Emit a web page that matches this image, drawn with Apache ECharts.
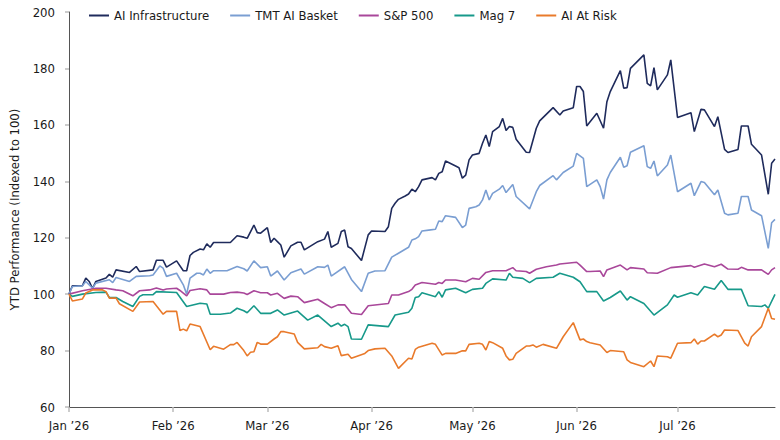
<!DOCTYPE html>
<html>
<head>
<meta charset="utf-8">
<script src="https://cdn.jsdelivr.net/npm/echarts@6/dist/echarts.min.js"></script>
<style>
  html, body { margin: 0; padding: 0; background: #fff; }
  #chart { width: 780px; height: 440px; }
</style>
</head>
<body>
<div id="chart"></div>
<script>
// days counted from 1 Jan 2026, values indexed to 100
var seriesNames = ['AI Infrastructure', 'TMT AI Basket', 'S&P 500', 'Mag 7', 'AI At Risk'];
var monthNames = ['Jan', 'Feb', 'Mar', 'Apr', 'May', 'Jun', 'Jul', 'Aug', 'Sep', 'Oct', 'Nov', 'Dec'];

var infra = [[0,100],[1,103],[4,103],[5,105.7],[6,104.5],[7,102],[8,104.5],[11,105.7],[12,107],[13,106],[14,108.6],[18,107.7],[20,109.8],[21,108],[25,108.6],[26,112],[28,112],[29,109.6],[32,111.8],[34,108.3],[35,108.3],[36,113.7],[37,114.8],[39,116],[40,115.7],[41,117.8],[42,116.6],[43,118.3],[48,118.3],[50,120.7],[52,120.2],[53,119.8],[55,124.5],[56,121.8],[57,121.6],[59,123.6],[60,118.3],[61,119.8],[62,118.6],[63,117.4],[64,113.1],[66,117.1],[68,118.4],[69,118.4],[70,115.7],[74,118.6],[76,119.5],[77,122.2],[78,116.6],[80,118],[81,122.2],[82,122.7],[83,116.8],[84,116.2],[87,111.9],[89,121],[90,122.4],[94,122.2],[95,123.9],[96,130.4],[97,132.2],[98,133.6],[100,134.8],[101,135.5],[102,137.2],[103,136.3],[104,138.1],[105,140.5],[108,141.3],[109,140.5],[110,142.8],[111,143.4],[112,147.2],[115,145.4],[116,144.8],[117,141.1],[118,142.2],[119,147.6],[120,149.3],[122,149.9],[123,153.5],[124,156.4],[125,152.3],[126,157.6],[128,159.4],[129,162.3],[130,158],[131,159.4],[132,159.1],[133,154.9],[136,150.3],[137,150.2],[139,158.8],[140,161.4],[144,166.1],[146,163.5],[147,164.9],[150,166.1],[151,173.6],[152,173.6],[153,171.8],[154,159.6],[155,161.1],[157,164.1],[159,158.8],[160,168.2],[161,171.8],[164,179.2],[165,173],[166,173.2],[167,180],[171,184.8],[172,174.7],[173,173.8],[174,180.3],[175,172.4],[178,177.7],[179,183],[181,162.6],[185,164.3],[186,157.6],[188,165.5],[189,165.3],[192,159.4],[193,162.9],[195,151.3],[196,150.2],[199,151.3],[200,159.6],[202,159.6],[203,153.1],[206,149.3],[208,135.4],[209,146.4],[210,147.9]];

var tmt = [[0,100],[1,102.7],[4,103],[5,104.5],[7,102.1],[8,103.9],[12,105.1],[13,104.1],[14,105.9],[18,104.5],[20,106.3],[24,106.5],[25,106.8],[27,110],[28,109.2],[29,106.3],[32,107.4],[34,103.3],[35,100],[36,105.7],[38,107.4],[39,107.4],[40,106.8],[41,108.9],[42,107.4],[43,108.3],[47,108.3],[50,109.8],[52,109],[53,108.2],[55,111.8],[57,109.4],[59,109.7],[60,106.4],[62,108.2],[64,105],[66,107.6],[69,108.9],[70,107.1],[74,109.7],[76,109.5],[77,110.3],[78,106.4],[82,109.7],[84,105.2],[87,100.9],[89,107.4],[91,108.2],[94,108.3],[96,113.1],[98,114.5],[101,116.6],[102,119.2],[103,119.6],[104,120.4],[105,122.4],[107,122.7],[109,123],[110,125.9],[111,125.7],[112,127.8],[115,127.2],[117,123.6],[118,124.5],[119,130.4],[121,131],[122,131.6],[123,133.4],[124,136.9],[125,133.4],[126,135.7],[128,137.2],[129,138.5],[130,136],[132,138.9],[133,134.6],[137,130.2],[139,136.3],[140,138.5],[144,142],[145,140.5],[147,143.1],[150,145.4],[151,149.9],[153,148.1],[154,138.1],[155,138.9],[157,140.5],[158,138.1],[159,133.7],[160,140.5],[161,143.1],[164,148.5],[165,145],[166,145.5],[167,150.3],[171,152.6],[172,145.2],[173,144.6],[174,147.2],[175,141.9],[178,145.8],[179,149.3],[181,136.3],[185,139.3],[186,134.9],[188,139.9],[189,139.6],[192,135.2],[193,136.9],[195,128.7],[196,128.1],[199,128.7],[200,134.6],[202,134.6],[203,129.8],[206,127.8],[208,116.2],[209,125.3],[210,126.5]];

var spx = [[0,100],[4,101.2],[8,102.1],[11,102.1],[14,101.5],[16,101.2],[19,99.4],[21,101.2],[24,101.5],[26,102.2],[28,101.5],[29,101.8],[32,102.1],[33,101.3],[35,99.4],[36,101.3],[39,101.9],[41,101.5],[42,100],[46,100],[48,100.6],[50,100.7],[52,100.4],[53,99.9],[55,101.2],[57,100.5],[59,100.5],[60,99.7],[62,100.3],[64,98.5],[66,99.3],[68,99.1],[70,97],[74,98.2],[76,96.7],[78,95.2],[80,96.2],[82,96.2],[84,93.2],[87,92.8],[89,95.9],[95,96.7],[96,99.7],[98,99.7],[101,100.9],[102,101.7],[103,103.2],[105,104.1],[109,103.5],[110,104.1],[111,103.8],[112,105],[115,105],[118,104.4],[120,105.6],[122,105.3],[124,107.7],[126,108.3],[130,108.3],[132,109.4],[133,108.3],[136,108],[137,107.4],[139,108.8],[142,109.7],[145,110.3],[146,110.7],[151,111.3],[152,110.3],[154,108],[155,108],[158,108.2],[159,106.2],[160,108.6],[164,110.3],[166,108.6],[167,109.4],[171,108.9],[172,107.6],[175,107.4],[179,109.4],[185,110.1],[186,109.5],[189,110.7],[192,109.7],[194,110.6],[196,108.9],[199,108.8],[200,109.5],[202,108.6],[206,108.6],[208,107],[209,108.6],[210,109.4]];

var mag7 = [[0,100],[1,99.2],[4,100],[8,100.6],[11,100.7],[12,98.8],[14,98.8],[16,97.4],[19,95.6],[21,99.2],[22,99.8],[25,99.8],[26,100.9],[32,100.6],[35,95.6],[39,96.8],[41,96.5],[42,92.9],[45,92.9],[48,93.3],[50,95],[52,94.1],[53,93.4],[55,95.9],[57,93.2],[60,93.2],[62,94.4],[64,92.6],[68,94],[71,90.8],[74,92.6],[78,88.5],[80,89.7],[81,88.7],[82,89.3],[83,88.5],[84,84.1],[87,84],[89,89.1],[95,88.5],[97,92.6],[101,93.6],[102,95],[103,98.8],[104,99.1],[105,100.5],[109,99.1],[110,100.9],[111,98.9],[112,101.5],[115,102.1],[118,100.5],[120,101.7],[123,102.1],[124,103.8],[126,105.4],[130,105],[131,107.4],[132,106],[135,105.6],[137,104.1],[139,105.6],[144,106],[146,107.4],[150,106],[152,104.4],[154,100.9],[155,100.9],[157,100.9],[159,97.6],[161,98.8],[164,101.1],[166,97.9],[167,99.1],[171,96.7],[174,92.6],[178,96.2],[180,99.7],[181,98.9],[185,100.5],[187,99.7],[189,102.7],[192,101.7],[194,104.8],[196,101.7],[200,101.7],[202,95.9],[206,95.6],[207,96.2],[208,95],[210,99.9]];

var atRisk = [[0,100],[1,97.6],[4,98.3],[5,100.4],[7,101.5],[10,101.5],[11,100.9],[12,98.6],[14,98.6],[15,96.6],[19,93.9],[21,97.2],[25,97.4],[28,92.9],[29,93.9],[32,93.9],[33,87.1],[34,87.6],[35,87],[36,89.4],[39,88.5],[42,80.3],[43,81.5],[46,80.5],[48,82.1],[49,82.1],[50,82.9],[52,80],[53,78.1],[54,79.4],[55,79.6],[56,82.9],[57,82.3],[59,82.3],[61,84.1],[62,84.9],[63,86.7],[64,86.7],[67,85.9],[68,82.9],[70,80.6],[74,81],[75,82.2],[76,81.4],[78,80.8],[80,81.7],[81,78.2],[83,78.7],[84,77.3],[88,79],[89,80],[91,80.6],[94,80.8],[96,78.1],[98,73.7],[101,77.3],[102,77],[103,80.4],[104,81.2],[108,82.6],[109,82.2],[111,78.4],[112,79],[115,79],[117,79.9],[118,79.9],[119,82.2],[122,82.6],[123,82.2],[124,80.2],[125,83.2],[126,82.8],[129,80.8],[130,78.1],[131,76.7],[132,76.9],[133,79],[136,81.6],[137,81.6],[138,82],[139,81.2],[141,82.2],[145,80.8],[147,84.9],[150,89.9],[152,83.8],[153,84.1],[154,83.2],[155,82.8],[158,82],[160,79.3],[161,80],[165,79.6],[166,76.7],[167,75.8],[171,74.3],[173,76.3],[174,74.3],[175,78.1],[178,77.8],[179,77.3],[181,82.6],[185,82.8],[186,84.1],[187,82.3],[188,83.4],[189,83.4],[192,85.8],[193,84.9],[194,85.5],[195,87.3],[199,87.1],[201,82.6],[202,81.6],[203,84.9],[206,88.5],[208,95],[209,91.4],[210,91.1]];

var colors = ['#1f2b5c', '#7a9ed2', '#a9479a', '#17998a', '#e97a2b'];
var font = "'Liberation Sans Narrow', 'DejaVu Sans Condensed', sans-serif";

function toTime(day) {
  return new Date(2026, 0, 1 + day).getTime();
}
function toSeriesData(list) {
  return list.map(function(p) { return [toTime(p[0]), p[1]]; });
}

var chart = echarts.init(document.getElementById('chart'), null, { renderer: 'svg' });
var allData = [infra, tmt, spx, mag7, atRisk];

chart.setOption({
  animation: false,
  color: colors,
  textStyle: { fontFamily: font },
  legend: {
    data: seriesNames,
    left: 84,
    top: 4,
    icon: 'rect',
    itemWidth: 20,
    itemHeight: 2,
    itemGap: 21,
    textStyle: { color: '#1a1a1a', fontSize: 13, fontFamily: font }
  },
  grid: { left: 66, right: 5, top: 12, bottom: 33 },
  xAxis: {
    type: 'time',
    min: toTime(0),
    max: toTime(210),
    minInterval: 28 * 86400000,
    maxInterval: 31 * 86400000,
    axisLine: { lineStyle: { color: '#555', width: 1 } },
    axisTick: { show: true, length: 5, lineStyle: { color: '#bbb', width: 1.5 } },
    splitLine: { show: false },
    axisLabel: {
      color: '#1a1a1a',
      fontSize: 13,
      fontFamily: font,
      margin: 12,
      showMaxLabel: false,
      formatter: function(v) {
        var d = new Date(v);
        return monthNames[d.getMonth()] + ' \u2019' + String(d.getFullYear()).slice(2);
      }
    }
  },
  yAxis: {
    type: 'value',
    min: 60,
    max: 200,
    interval: 20,
    name: 'YTD Performance (Indexed to 100)',
    nameLocation: 'middle',
    nameGap: 48,
    nameTextStyle: { color: '#1a1a1a', fontSize: 13, fontFamily: font },
    axisLine: { show: true, lineStyle: { color: '#555', width: 1 } },
    axisTick: { show: true, length: 4, lineStyle: { color: '#bbb', width: 1.5 } },
    splitLine: { show: false },
    axisLabel: { color: '#1a1a1a', fontSize: 13, fontFamily: font, margin: 14 }
  },
  series: seriesNames.map(function(name, i) {
    return {
      name: name,
      type: 'line',
      data: toSeriesData(allData[i]),
      showSymbol: false,
      symbol: 'none',
      lineStyle: { width: 1.6, color: colors[i] },
      itemStyle: { color: colors[i] }
    };
  })
});
window.addEventListener('resize', function() { chart.resize(); });
</script>
</body>
</html>
